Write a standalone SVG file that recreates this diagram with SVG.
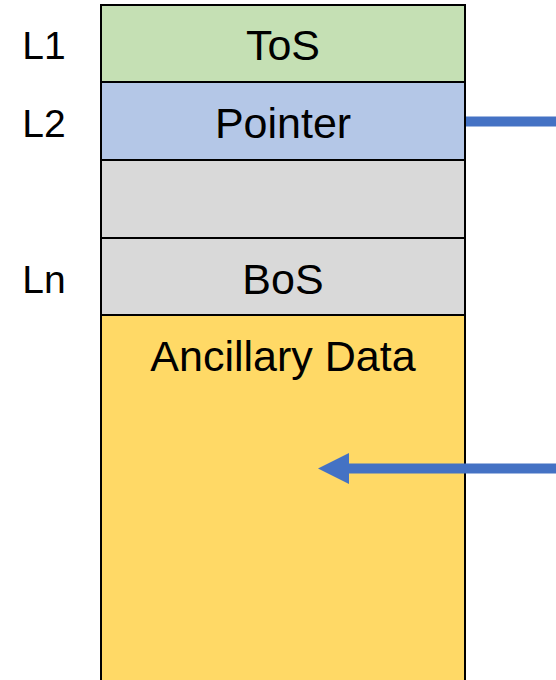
<svg xmlns="http://www.w3.org/2000/svg" width="556" height="680" viewBox="0 0 556 680">
<style>
.cell{stroke:#000;stroke-width:2}
.t{font-family:"Liberation Sans",Arial,sans-serif;font-size:43px;fill:#000}
.l{font-family:"Liberation Sans",Arial,sans-serif;font-size:39px;fill:#000;text-anchor:middle}
.c{text-anchor:middle}
.conn{stroke:#4472C4;stroke-width:10;fill:none}
</style>
<rect width="556" height="680" fill="#fff"/>
<g id="tos"><rect class="cell" x="101" y="5" width="364" height="77" fill="#C5E0B4"/><text class="t c" x="283" y="60">ToS</text></g>
<g id="pointer"><rect class="cell" x="101" y="82" width="364" height="78" fill="#B4C7E7"/><text class="t c" x="283" y="138">Pointer</text></g>
<g id="gap"><rect class="cell" x="101" y="160" width="364" height="78" fill="#D9D9D9"/></g>
<g id="bos"><rect class="cell" x="101" y="238" width="364" height="77" fill="#D9D9D9"/><text class="t c" x="283" y="294">BoS</text></g>
<g id="ancillary"><rect class="cell" x="101" y="315" width="364" height="380" fill="#FFD966"/><text class="t c" x="283" y="371">Ancillary Data</text></g>
<g id="labels"><text class="l" x="44" y="59">L1</text><text class="l" x="44" y="137">L2</text><text class="l" x="44" y="293">Ln</text></g>
<g id="connectors">
<line class="conn" x1="466" y1="121.5" x2="556" y2="121.5"/>
<line class="conn" x1="556" y1="468.5" x2="346" y2="468.5"/>
<polygon points="318,468.5 349,453 349,484" fill="#4472C4"/>
</g>
</svg>
